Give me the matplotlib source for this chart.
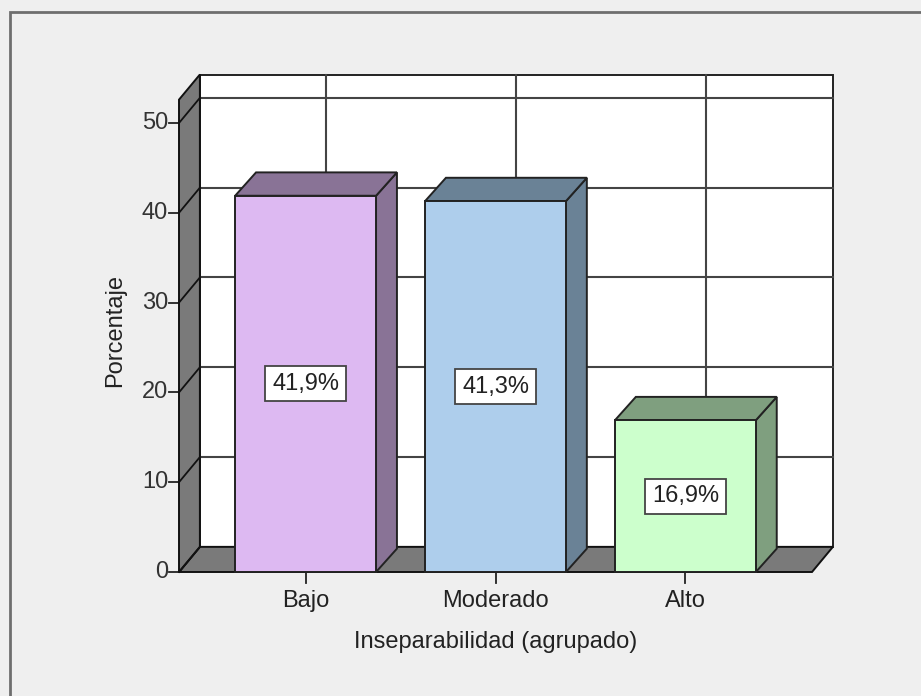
import numpy as np
import matplotlib.pyplot as plt
from matplotlib.patches import Polygon, Rectangle

categorias = ["Bajo", "Moderado", "Alto"]
porcentajes = [41.9, 41.3, 16.9]
etiquetas = ["41,9%", "41,3%", "16,9%"]
y_ticks = [0, 10, 20, 30, 40, 50]

c_frente = ["#DDB9F2", "#AECEEC", "#CCFFCC"]
c_lado = ["#897396", "#6A8296", "#7F9F7F"]
c_pared = "#7A7A7A"
c_fondo = "#EFEFEF"

plt.rcParams['font.family'] = ['Liberation Sans', 'DejaVu Sans']
fs = 17

fig_dpi = 100
fig = plt.figure(dpi=fig_dpi, figsize=(921/fig_dpi, 696/fig_dpi), facecolor=c_fondo)

# front plane of the plot box, in pixels
px_l, px_r, px_b, px_t = 179, 812, 572, 123
ax = fig.add_axes([px_l/921, 1 - px_b/696, (px_r - px_l)/921, (px_b - px_t)/696])
x0, x1 = -2/3, 2 + 2/3
y_top = 52.6
ax.set_xlim(x0, x1)
ax.set_ylim(0, 50)
ax.axis("off")

# depth offsets (data units)
dx, dy = 0.11, 2.8
bdx, bdy = 0.11, 2.6
hw = 0.371

lw_edge = 1.4
k = dict(clip_on=False)

# outer frame
fig.patches.append(Rectangle((10/921, -0.1), 1.2, 1.1 - 12/696, transform=fig.transFigure,
                             facecolor="none", edgecolor="#6E6E6E", lw=2))

# back wall
ax.add_patch(Polygon([(x0+dx, dy), (x1+dx, dy), (x1+dx, y_top+dy), (x0+dx, y_top+dy)],
                     closed=True, facecolor="white", edgecolor="#222222", lw=lw_edge, zorder=1, **k))
# grid on the back wall and left wall
for t in y_ticks[1:]:
    ax.plot([x0+dx, x1+dx], [t+dy, t+dy], color="#444444", lw=1.5, zorder=2, **k)
for i in range(len(categorias)):
    ax.plot([i+dx, i+dx], [dy, y_top+dy], color="#444444", lw=1.5, zorder=2, **k)

# floor
ax.add_patch(Polygon([(x0, 0), (x1, 0), (x1+dx, dy), (x0+dx, dy)], closed=True,
                     facecolor=c_pared, edgecolor="#111111", lw=lw_edge, zorder=3, **k))
# left wall
ax.add_patch(Polygon([(x0, 0), (x0+dx, dy), (x0+dx, y_top+dy), (x0, y_top)], closed=True,
                     facecolor=c_pared, edgecolor="#111111", lw=lw_edge, zorder=3, **k))
for t in y_ticks:
    ax.plot([x0, x0+dx], [t, t+dy], color="#111111", lw=1.3, zorder=4, **k)

# bars
for i, v in enumerate(porcentajes):
    xl, xr = i - hw, i + hw
    ax.add_patch(Polygon([(xr, 0), (xr+bdx, bdy), (xr+bdx, v+bdy), (xr, v)], closed=True,
                         facecolor=c_lado[i], edgecolor="#222222", lw=lw_edge, zorder=5, **k))
    ax.add_patch(Polygon([(xl, v), (xr, v), (xr+bdx, v+bdy), (xl+bdx, v+bdy)], closed=True,
                         facecolor=c_lado[i], edgecolor="#222222", lw=lw_edge, zorder=5, **k))
    ax.add_patch(Rectangle((xl, 0), 2*hw, v, facecolor=c_frente[i], edgecolor="#222222",
                           lw=lw_edge, zorder=6, **k))
    ax.text(i, v/2, etiquetas[i], ha="center", va="center", fontsize=fs, color="#222222", zorder=7,
            bbox=dict(boxstyle="square,pad=0.28", facecolor="white", edgecolor="#444444", lw=1.3))

# y axis ticks and labels
for t in y_ticks:
    ax.plot([x0 - 10/190, x0], [t, t], color="#222222", lw=1.3, **k)
    ax.text(x0 - 11/190, t, str(t), ha="right", va="center", fontsize=fs, color="#333333")
# x axis ticks and labels
for i, c in enumerate(categorias):
    ax.plot([i, i], [0, -11/8.98], color="#222222", lw=1.3, **k)
    ax.text(i, -29/8.98, c, ha="center", va="center", fontsize=fs, color="#222222")

ax.text(1, -70/8.98, "Inseparabilidad (agrupado)", ha="center", va="center", fontsize=fs, color="#222222")
ax.text(x0 - 64/190, (572-330)/8.98, "Porcentaje", ha="center", va="center", rotation=90,
        fontsize=fs, color="#222222")

fig.savefig("out.png", dpi=fig_dpi, facecolor=c_fondo)
